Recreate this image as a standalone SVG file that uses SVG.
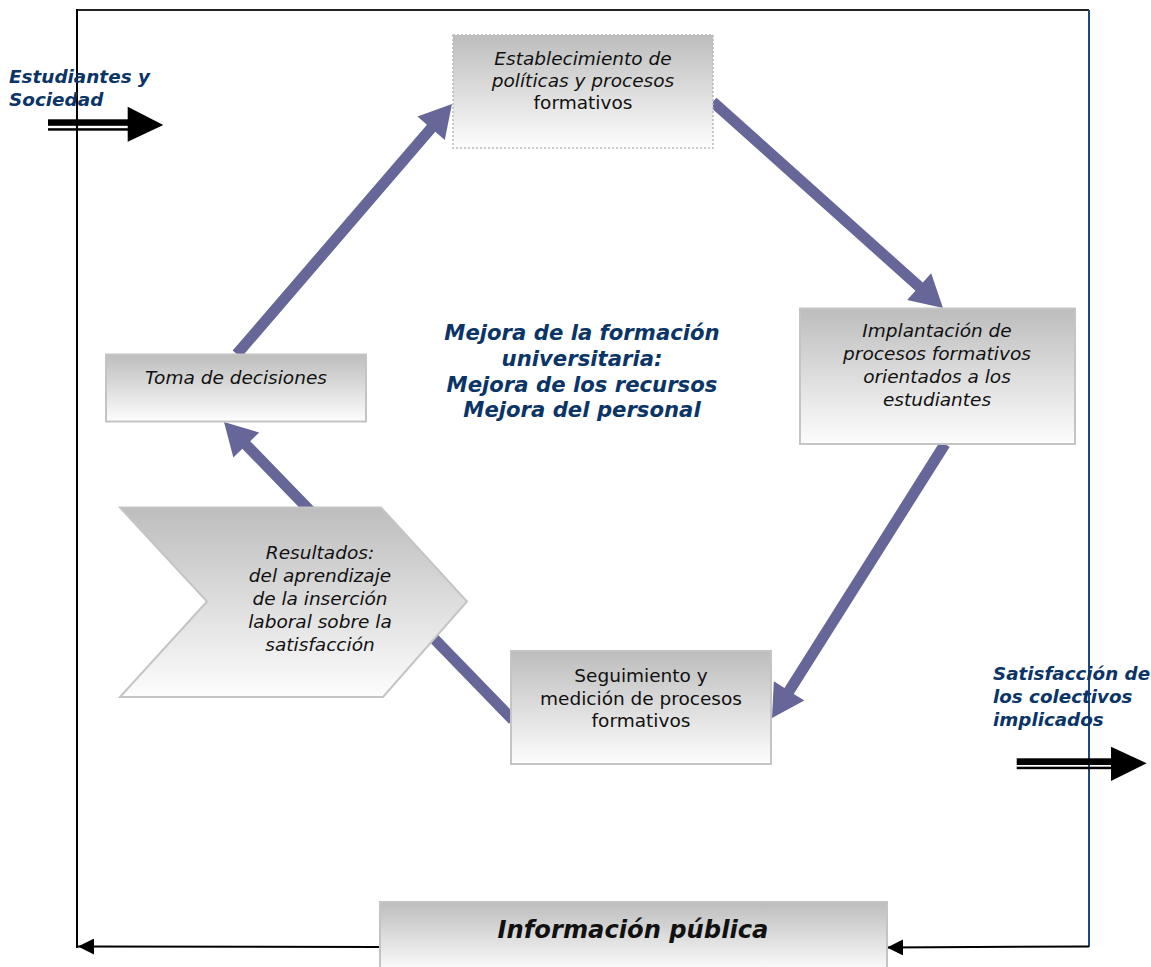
<svg xmlns="http://www.w3.org/2000/svg" width="1151" height="967" viewBox="0 0 1151 967">
<defs>
<linearGradient id="g" x1="0" y1="0" x2="0" y2="1">
<stop offset="0" stop-color="#bdbdbd"/>
<stop offset="1" stop-color="#fdfdfd"/>
</linearGradient>
<marker id="ah" markerUnits="userSpaceOnUse" markerWidth="16" markerHeight="16" viewBox="0 0 16 16" refX="16" refY="8" orient="auto">
<path d="M0,0 L16,8 L0,16 Z" fill="#000"/>
</marker>
<style>
.box{fill:url(#g);stroke:#c4c4c4;stroke-width:2}
.dot{fill:url(#g);stroke:#b8b8b8;stroke-width:1.5;stroke-dasharray:2 2}
.t{font-family:"DejaVu Sans","Verdana",sans-serif;font-size:18.5px;fill:#111;text-anchor:middle}
.i{font-style:italic}
.lbl{font-family:"DejaVu Sans","Verdana",sans-serif;font-weight:bold;font-style:italic;fill:#0b3566}
.pa{fill:#666699}
</style>
</defs>
<rect width="1151" height="967" fill="#fff"/>
<g id="frame">
<line x1="77" y1="10" x2="1089" y2="10" stroke="#222" stroke-width="2"/>
<line x1="77" y1="9" x2="77" y2="948" stroke="#000" stroke-width="2"/>
<line x1="1089" y1="10" x2="1089" y2="947" stroke="#1f497d" stroke-width="2"/>
</g>
<g id="connectors">
<polygon class="pa" transform="translate(452,104) rotate(-49.3)" points="-330,-5.5 -32,-5.5 -32,-18 0,0 -32,18 -32,5.5 -330,5.5"/>
<polygon class="pa" transform="translate(943,308) rotate(41.85)" points="-309,-5.5 -32,-5.5 -32,-18 0,0 -32,18 -32,5.5 -309,5.5"/>
<polygon class="pa" transform="translate(772,718) rotate(122.27)" points="-324,-5.5 -32,-5.5 -32,-18 0,0 -32,18 -32,5.5 -324,5.5"/>
<polygon class="pa" transform="translate(224,422) rotate(-134.12)" points="-415,-5.5 -32,-5.5 -32,-18 0,0 -32,18 -32,5.5 -415,5.5"/>
<line x1="380" y1="947" x2="78" y2="946.5" stroke="#000" stroke-width="2" marker-end="url(#ah)"/>
<line x1="1089" y1="946.5" x2="887" y2="947.5" stroke="#000" stroke-width="2" marker-end="url(#ah)"/>
<g id="in-arrow">
<rect x="48" y="119.3" width="82" height="6.5" fill="#000"/>
<rect x="48" y="128.2" width="82" height="2.5" fill="#000"/>
<polygon points="127.7,106.7 163.3,125 127.7,141.7" fill="#000"/>
</g>
<g id="out-arrow">
<rect x="1016.7" y="758.3" width="96" height="6.7" fill="#000"/>
<rect x="1016.7" y="766.7" width="96" height="2.5" fill="#000"/>
<polygon points="1111,746.7 1146.7,763.3 1111,781" fill="#000"/>
</g>
</g>
<g id="n-establecimiento">
<rect class="dot" x="453" y="35" width="260" height="113"/>
<text class="t i" x="583" y="65">Establecimiento de</text>
<text class="t i" x="583" y="87">políticas y procesos</text>
<text class="t" x="583" y="109">formativos</text>
</g>
<g id="n-implantacion">
<rect class="box" x="800" y="308.5" width="275" height="135.5"/>
<text class="t i" x="937" y="337">Implantación de</text>
<text class="t i" x="937" y="360">procesos formativos</text>
<text class="t i" x="937" y="383">orientados a los</text>
<text class="t i" x="937" y="406">estudiantes</text>
</g>
<g id="n-toma">
<rect class="box" x="106" y="354.5" width="260" height="67"/>
<text class="t i" x="236" y="384">Toma de decisiones</text>
</g>
<g id="n-resultados">
<polygon class="box" points="120,507.5 381,507.5 467,601.5 383,697 120,697 207,601.5"/>
<text class="t i" x="320" y="559">Resultados:</text>
<text class="t i" x="320" y="582">del aprendizaje</text>
<text class="t i" x="320" y="605">de la inserción</text>
<text class="t i" x="320" y="628">laboral sobre la</text>
<text class="t i" x="320" y="651">satisfacción</text>
</g>
<g id="n-seguimiento">
<rect class="box" x="511" y="651" width="260" height="113"/>
<text class="t" x="641" y="682">Seguimiento y</text>
<text class="t" x="641" y="705">medición de procesos</text>
<text class="t" x="641" y="727">formativos</text>
</g>
<g id="n-centro">
<text class="lbl" x="582" y="340" font-size="21.2" text-anchor="middle">Mejora de la formación</text>
<text class="lbl" x="582" y="365.5" font-size="21.2" text-anchor="middle">universitaria:</text>
<text class="lbl" x="582" y="391.5" font-size="21.2" text-anchor="middle">Mejora de los recursos</text>
<text class="lbl" x="582" y="417" font-size="21.2" text-anchor="middle">Mejora del personal</text>
</g>
<g id="n-estudiantes">
<text class="lbl" x="9" y="83" font-size="18.4">Estudiantes y</text>
<text class="lbl" x="9" y="106" font-size="18.4">Sociedad</text>
</g>
<g id="n-satisfaccion">
<text class="lbl" x="993" y="680" font-size="18.3">Satisfacción de</text>
<text class="lbl" x="993" y="703" font-size="18.3">los colectivos</text>
<text class="lbl" x="993" y="726" font-size="18.3">implicados</text>
</g>
<g id="n-informacion">
<rect class="box" x="380" y="902" width="507" height="70"/>
<text x="633" y="938" font-family="'DejaVu Sans','Verdana',sans-serif" font-weight="bold" font-style="italic" font-size="24.2" fill="#111" text-anchor="middle">Información pública</text>
</g>
</svg>
